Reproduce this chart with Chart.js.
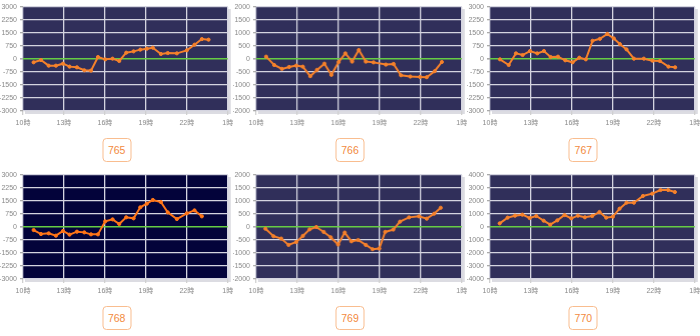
<!DOCTYPE html>
<html>
<head>
<meta charset="utf-8">
<script src="https://cdn.jsdelivr.net/npm/chart.js"></script>
<style>
  html, body { margin: 0; padding: 0; background: #fff; }
  .grid { width: 700px; height: 336px; display: flex; flex-wrap: wrap; }
  .cell { position: relative; width: 233.33px; height: 168px; }
  .plot { position: absolute; left: 0; top: 0; width: 233.33px; height: 132px; }
  .tag {
    position: absolute; top: 138px; left: 50%; transform: translateX(-50%);
    width: 29px; height: 24px; box-sizing: border-box;
    border: 1px solid #f9bd8f; border-radius: 4px;
    color: #f28a3e; font: 10.5px "Liberation Sans", Arial, sans-serif;
    text-align: center; line-height: 22px;
  }
</style>
</head>
<body>
<div class="grid" id="grid"></div>
<script>
// 台番号
const machines = ['765', '766', '767', '768', '769', '770'];

// 縦軸の範囲と刻み
const yLimits = [3000, 2000, 3000, 3000, 2000, 4000];
const ySteps = [750, 500, 750, 750, 500, 1000];

// 時刻（時）と差枚
const hours765 = [10.78, 11.32, 11.88, 12.41, 12.93, 13.41, 13.95, 14.49, 14.98, 15.49, 16.02, 16.56, 17.05, 17.56, 18.1, 18.59, 19.07, 19.51, 20.1, 20.6, 21.27, 22.0, 22.56, 23.1, 23.59];
const values765 = [-190, -60, -385, -385, -270, -440, -480, -650, -670, 115, -20, 20, -115, 365, 440, 540, 595, 650, 290, 345, 325, 500, 825, 1150, 1115];

const hours766 = [10.73, 11.32, 11.88, 12.41, 12.93, 13.41, 13.95, 14.44, 14.98, 15.49, 16.02, 16.51, 17.0, 17.49, 18.0, 18.56, 19.46, 20.02, 20.56, 21.24, 21.95, 22.44, 23.02, 23.54];
const values766 = [90, -230, -380, -305, -255, -295, -660, -420, -180, -610, -115, 215, -100, 345, -100, -130, -215, -190, -625, -675, -690, -700, -470, -115];

const hours767 = [10.73, 11.37, 11.9, 12.39, 12.93, 13.46, 13.95, 14.44, 14.98, 15.51, 16.05, 16.54, 17.02, 17.51, 18.05, 18.59, 19.07, 19.51, 20.0, 20.54, 21.27, 21.9, 22.44, 23.07, 23.56];
const values767 = [-20, -345, 325, 230, 460, 325, 460, 115, 135, -75, -190, 75, -20, 1050, 1165, 1450, 1185, 860, 555, 20, 20, -95, -115, -440, -480];

const hours768 = [10.78, 11.32, 11.88, 12.41, 12.93, 13.41, 13.95, 14.49, 14.98, 15.49, 16.02, 16.56, 17.05, 17.56, 18.1, 18.59, 19.07, 19.51, 20.1, 20.6, 21.27, 22.0, 22.56, 23.1];
const values768 = [-175, -405, -365, -500, -230, -440, -270, -310, -425, -425, 325, 440, 175, 560, 500, 1135, 1345, 1560, 1440, 845, 460, 790, 960, 615];

const hours769 = [10.68, 11.27, 11.83, 12.37, 12.93, 13.41, 13.9, 14.39, 14.93, 15.44, 15.98, 16.46, 16.95, 17.44, 18.0, 18.49, 18.98, 19.41, 20.0, 20.49, 21.15, 21.88, 22.44, 22.98, 23.46];
const values769 = [-65, -355, -445, -690, -575, -345, -90, 0, -190, -395, -675, -215, -550, -500, -690, -855, -830, -190, -100, 205, 370, 410, 320, 510, 740];

const hours770 = [10.71, 11.29, 11.83, 12.37, 12.9, 13.39, 13.93, 14.41, 14.93, 15.46, 15.95, 16.44, 16.95, 17.49, 18.02, 18.51, 19.0, 19.49, 20.0, 20.54, 21.2, 21.88, 22.49, 23.05, 23.54];
const values770 = [280, 720, 870, 950, 690, 845, 485, 180, 510, 920, 665, 870, 745, 845, 1155, 720, 795, 1410, 1870, 1870, 2385, 2565, 2845, 2845, 2690];

const allHours = [hours765, hours766, hours767, hours768, hours769, hours770];
const allValues = [values765, values766, values767, values768, values769, values770];

Chart.defaults.font.family = '"Liberation Sans", "Noto Sans CJK JP", sans-serif';
Chart.defaults.font.size = 7;
Chart.defaults.color = '#888';

// プロット領域の背景
const plotBg = {
  id: 'plotBg',
  beforeDraw(chart, args, opts) {
    const { ctx, chartArea: a } = chart;
    ctx.save();
    ctx.fillStyle = '#dcdce2';
    ctx.fillRect(a.left + 2, a.top + 2, a.width + 1, a.height + 1);
    ctx.fillStyle = opts.color;
    ctx.fillRect(a.left, a.top, a.width, a.height);
    ctx.restore();
  }
};

const grid = document.getElementById('grid');

machines.forEach((name, i) => {
  const cell = document.createElement('div');
  cell.className = 'cell';
  cell.innerHTML = '<div class="plot"><canvas></canvas></div><div class="tag">' + name + '</div>';
  grid.appendChild(cell);

  const dark = i === 3;
  const lineColor = dark ? '#ff7518' : '#f5812b';
  const points = allHours[i].map((h, k) => ({ x: h, y: allValues[i][k] }));

  new Chart(cell.querySelector('canvas'), {
    type: 'line',
    data: {
      datasets: [{
        data: points,
        borderColor: lineColor,
        backgroundColor: lineColor,
        borderWidth: 2,
        pointRadius: 1.6,
        pointBorderWidth: 1,
        pointHoverRadius: 1.6,
        tension: 0,
      }],
    },
    options: {
      responsive: true,
      maintainAspectRatio: false,
      animation: false,
      layout: { padding: { top: 7, right: 5.5, left: 0, bottom: 0 } },
      plugins: {
        legend: { display: false },
        tooltip: { enabled: false },
        plotBg: { color: dark ? '#03033a' : '#302f5a' },
      },
      scales: {
        x: {
          type: 'linear',
          min: 10,
          max: 25,
          border: { display: false },
          grid: { color: '#d4d4e0', lineWidth: 1.3, tickLength: 4, tickColor: '#d0d0d0' },
          ticks: { stepSize: 3, padding: 4, maxRotation: 0, callback: (v) => (v % 24) + '時' },
          afterFit: (s) => { s.height = 21; s.paddingLeft = 0; s.paddingRight = 0; },
        },
        y: {
          min: -yLimits[i],
          max: yLimits[i],
          border: { display: false },
          grid: {
            color: (c) => (c.tick && c.tick.value === 0 ? '#66cc44' : '#d4d4e0'),
            lineWidth: (c) => (c.tick && c.tick.value === 0 ? 1.6 : 1.3),
            tickLength: 3,
            tickColor: '#aaa',
          },
          ticks: { stepSize: ySteps[i], padding: 3, callback: (v) => String(v) },
          afterFit: (s) => { s.width = 23; s.paddingTop = 0; s.paddingBottom = 0; },
        },
      },
    },
    plugins: [plotBg],
  });
});
</script>
</body>
</html>
